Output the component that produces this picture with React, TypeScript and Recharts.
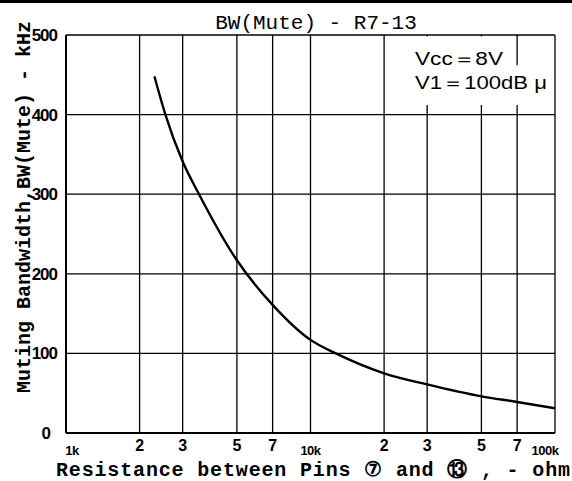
import React from 'react';
import {
  CartesianGrid,
  Line,
  LineChart,
  ReferenceArea,
  ReferenceLine,
  XAxis,
  YAxis,
} from 'recharts';

// values
const resistance = [2300, 2550, 3000, 3500, 5000, 7000, 10000, 12700, 20000, 30000, 50000, 70000, 100000];
const bandwidth = [448, 400, 341, 300, 217, 161, 117, 100, 75, 61, 46, 39, 31];

const xTicks = [1000, 2000, 3000, 5000, 7000, 10000, 20000, 30000, 50000, 70000, 100000];
const xTickLabels = ['1k', '2', '3', '5', '7', '10k', '2', '3', '5', '7', '100k'];
const yTicks = [0, 100, 200, 300, 400, 500];

const data = resistance.map((r, i) => ({ r, bw: bandwidth[i] }));

const MONO = '"Liberation Mono", "DejaVu Sans Mono", monospace';
const SANS = '"Liberation Sans", Arial, sans-serif';

function XTick(props: any) {
  const { x, y, payload } = props;
  const i = xTicks.indexOf(payload.value);
  const label = xTickLabels[i] ?? '';
  const decade = label.endsWith('k');
  let dx = 0;
  if (label === '1k') dx = 6;
  if (label === '100k') dx = -10;
  return (
    <text
      x={x + dx}
      y={y + (decade ? 14 : 10)}
      textAnchor="middle"
      fontFamily={SANS}
      fontWeight="bold"
      fontSize={decade ? 13 : 16}
      letterSpacing={decade ? -0.5 : 0}
      fill="#000"
    >
      {label}
    </text>
  );
}

function YTick(props: any) {
  const { x, y, payload } = props;
  return (
    <text
      x={payload.value === 0 ? x - 8 : x - 1}
      y={y + 6}
      textAnchor="end"
      fontFamily={SANS}
      fontWeight="bold"
      fontSize={17}
      letterSpacing={-1}
      fill="#000"
    >
      {payload.value}
    </text>
  );
}

export default function App() {
  return (
    <div style={{ position: 'fixed', top: 0, left: 0, width: 572, height: 481, background: '#fff' }}>
      <div style={{ position: 'absolute', top: 0, left: 0, width: 572, height: 3, background: '#000' }} />
      <LineChart
        width={572}
        height={481}
        data={data}
        margin={{ top: 35, right: 17, left: 0, bottom: 0 }}
      >
        <CartesianGrid stroke="#000" strokeWidth={1.3} />
        <XAxis
          dataKey="r"
          type="number"
          scale="log"
          domain={[1000, 100000]}
          ticks={xTicks}
          allowDataOverflow
          height={48}
          axisLine={{ stroke: '#000', strokeWidth: 2 }}
          tickLine={false}
          tick={<XTick />}
          interval={0}
        />
        <YAxis
          type="number"
          domain={[0, 500]}
          ticks={yTicks}
          width={66}
          axisLine={{ stroke: '#000', strokeWidth: 2 }}
          tickLine={false}
          tick={<YTick />}
          interval={0}
        />
        <ReferenceArea x1={25500} x2={97000} y1={412} y2={498} fill="#fff" fillOpacity={1} stroke="none" />
        <ReferenceLine
          segment={[{ x: 70000, y: 462 }, { x: 70000, y: 500 }]}
          stroke="#000"
          strokeWidth={1.3}
        />
        <Line
          dataKey="bw"
          type="monotone"
          stroke="#000"
          strokeWidth={2.4}
          dot={false}
          isAnimationActive={false}
        />
      </LineChart>
      <svg
        width={572}
        height={481}
        style={{ position: 'absolute', top: 0, left: 0, pointerEvents: 'none' }}
      >
        <text x={316} y={29} textAnchor="middle" fontFamily={MONO} fontSize={21} fill="#000">
          BW(Mute) - R7-13
        </text>
        <text x={415} y={65} fontFamily={SANS} fontSize={18} textLength={88} lengthAdjust="spacingAndGlyphs" fill="#000">
          Vcc＝8V
        </text>
        <text x={415} y={89} fontFamily={SANS} fontSize={18} textLength={132} lengthAdjust="spacingAndGlyphs" fill="#000">
          V1＝100dB μ
        </text>
        <text
          transform="translate(30,207) rotate(-90)"
          textAnchor="middle"
          fontFamily={MONO}
          fontWeight="bold"
          fontSize={20}
          fill="#000"
        >
          Muting Bandwidth,BW(Mute) - kHz
        </text>
        <text
          x={56}
          y={476}
          fontFamily={MONO}
          fontWeight="bold"
          fontSize={20}
          textLength={514}
          lengthAdjust="spacing"
          fill="#000"
        >
          Resistance between Pins ⑦ and ⑬ , - ohm
        </text>
      </svg>
    </div>
  );
}
